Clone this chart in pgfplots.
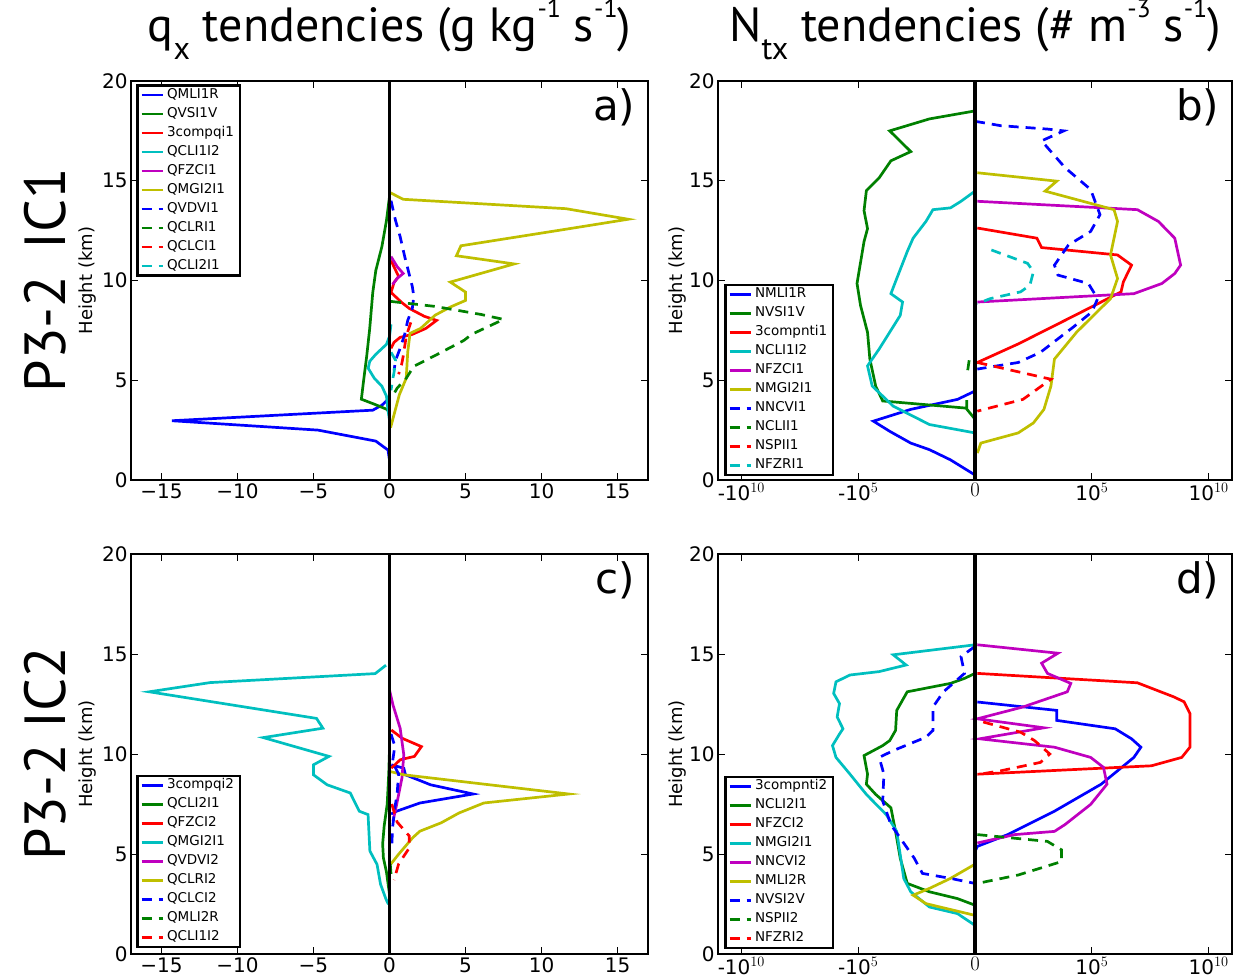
\documentclass[border=0pt]{standalone}
\usepackage{fontspec}
\setmainfont{DejaVu Sans}
\newfontfamily\titlefont{PT Sans}
\usepackage{pgfplots}
\pgfplotsset{compat=1.18}
\definecolor{mblue}{rgb}{0,0,1}
\definecolor{mgreen}{rgb}{0,0.5,0}
\definecolor{mred}{rgb}{1,0,0}
\definecolor{mcyan}{rgb}{0,0.75,0.75}
\definecolor{mmag}{rgb}{0.75,0,0.75}
\definecolor{myel}{rgb}{0.75,0.75,0}
\pgfplotsset{
  panel/.style={
    scale only axis, anchor=south west,
    ymin=0, ymax=20, ytick={0,5,10,15,20},
    tick align=inside, major tick length=7bp,
    axis line style={line width=2.4bp},
    tick style={line width=0.8bp, black},
    ticklabel style={font=\fontsize{20bp}{24bp}\selectfont},
    /pgf/number format/assume math mode=true,
    ylabel={Height (km)},
    every axis y label/.style={at={(axis description cs:#1,0.5)},rotate=90,anchor=center,
      font=\fontsize{18bp}{21bp}\selectfont},
    legend cell align=left,
    legend image code/.code={\draw[##1] (0bp,0bp) -- (21bp,0bp);},
    legend style={draw=black, line width=2.4bp, inner xsep=3bp, inner ysep=2bp,
      font=\fontsize{13.5bp}{15bp}\selectfont, row sep=4bp,
      nodes={inner xsep=3bp, inner ysep=1bp, text height=10bp, text depth=3bp}},
  },
  leftpanel/.style={panel=-0.085, xmin=-17, xmax=17, xtick={-15,-10,-5,0,5,10,15},
    xticklabels={−15,−10,−5,0,5,10,15}},
  rightpanel/.style={panel=-0.078, xmin=-2.2, xmax=2.2, xtick={-2,-1,0,1,2},
    xticklabels={{-10$^{10}$},{-10$^{5}$},{$0$},{10$^{5}$},{10$^{10}$}}},
  s/.style={line width=2.7bp},
  d/.style={line width=2.7bp, dash pattern=on 10bp off 7bp},
}
\newcommand{\zeroline}{\addplot[black, line width=3.6bp, forget plot] coordinates {(0,0) (0,20)};}
\newcommand{\plab}[1]{\node[anchor=base east, font=\fontsize{42bp}{44bp}\selectfont] at (rel axis cs:0.982,0.9) {#1};}
\begin{document}
\begin{tikzpicture}
\useasboundingbox (0bp,0bp) rectangle (1239bp,979bp);
\node[anchor=base, font=\titlefont\fontsize{48bp}{52bp}\selectfont] at (389.5bp,937bp)
  {q\raisebox{-0.36em}{\fontsize{32bp}{32bp}\selectfont x} tendencies (g kg\raisebox{0.5em}{\fontsize{26bp}{26bp}\selectfont -1} s\raisebox{0.5em}{\fontsize{26bp}{26bp}\selectfont -1})};
\node[anchor=base, font=\titlefont\fontsize{48bp}{52bp}\selectfont] at (975bp,937bp)
  {N\raisebox{-0.36em}{\fontsize{32bp}{32bp}\selectfont tx} tendencies (\# m\raisebox{0.5em}{\fontsize{26bp}{26bp}\selectfont -3} s\raisebox{0.5em}{\fontsize{26bp}{26bp}\selectfont -1})};
\node[rotate=90, font=\titlefont\fontsize{58bp}{62bp}\selectfont] at (45bp,699bp) {P3-2\hspace{0.45em}IC1};
\node[rotate=90, font=\titlefont\fontsize{58bp}{62bp}\selectfont] at (45bp,225bp) {P3-2 IC2};

% ---------------- a)
\begin{axis}[leftpanel, at={(131bp,499bp)}, width=517bp, height=399bp,
  legend style={at={(0.01,0.992)}, anchor=north west}]
\addplot[s,mblue] coordinates {(0,1.0) (-0.1,1.5) (-0.9,1.95) (-4.7,2.5) (-14.3,2.97) (-1.1,3.5) (-0.5,3.75) (0,4.1)};
\addlegendentry{QMLI1R}
\addplot[s,mgreen] coordinates {(0,14.2) (-0.2,13) (-0.5,11.7) (-0.9,10.5) (-1.1,9.4) (-1.2,8.5) (-1.3,7.6) (-1.5,6.2) (-1.7,5) (-1.85,4.05) (-1.0,3.8) (-0.2,3.55) (0,3.4)};
\addlegendentry{QVSI1V}
\addplot[s,mred] coordinates {(0.1,11.0) (0.6,10.2) (0.3,9.9) (0.1,9.4) (0.8,8.9) (1.3,8.6) (2.3,8.2) (3.1,8.0) (2.4,7.6) (1.5,7.3) (0.7,7.15) (0.3,6.9) (0.1,6.6)};
\addlegendentry{3compqi1}
\addplot[s,mcyan] coordinates {(0.1,7.8) (0,7.2) (-0.2,6.8) (-0.9,6.3) (-1.3,5.95) (-1.4,5.6) (-1.0,5.1) (-0.5,4.7) (-0.2,4.2) (-0.1,3.5) (0,3.0)};
\addlegendentry{QCLI1I2}
\addplot[s,mmag] coordinates {(0.1,11.2) (0.5,10.7) (0.9,10.35) (0.5,10.1) (0.2,9.8)};
\addlegendentry{QFZCI1}
\addplot[s,myel] coordinates {(0.05,14.4) (0.9,14.07) (11.6,13.6) (15.7,13.07) (11.6,12.57) (4.7,11.74) (4.4,11.24) (8.2,10.83) (4.0,9.92) (5.0,9.42) (5.0,9.0) (4.0,8.67) (3.0,8.26) (2.05,7.6) (1.35,7.35) (1.2,6.43) (1.1,5.1) (0.65,4.28) (0.07,2.62)};
\addlegendentry{QMGI2I1}
\addplot[d,mblue] coordinates {(0.1,14.0) (0.4,13.0) (0.7,12.2) (1.0,11.2) (1.3,10.3) (1.5,9.7) (1.6,9.2) (1.5,8.6) (1.2,8.0) (1.0,7.3) (0.7,6.6) (0.4,6.0) (0.3,5.5)};
\addlegendentry{QVDVI1}
\addplot[d,mgreen] coordinates {(0.1,8.95) (3,8.7) (6,8.3) (7.5,8.05) (5.4,7.3) (4.9,7.0) (2.9,6.2) (1.6,5.7) (1.1,5.1) (0.5,4.6) (0.2,4.2)};
\addlegendentry{QCLRI1}
\addplot[d,mred] coordinates {(1.4,7.9) (1.1,7.2) (0.9,6.2) (0.8,5.8) (0.6,5.3)};
\addlegendentry{QCLCI1}
\addplot[d,mcyan] coordinates {(0.1,6.4) (0.4,6.0) (0.3,5.4) (0.2,5.0) (0.1,4.5)};
\addlegendentry{QCLI2I1}
\zeroline
\plab{a)}
\end{axis}

% ---------------- b)
\begin{axis}[rightpanel, at={(718bp,499bp)}, width=514bp, height=399bp,
  legend style={at={(0.012,0.01)}, anchor=south west}]
\addplot[s,mblue] coordinates {(0,0.25) (-0.21,1.01) (-0.39,1.52) (-0.55,1.85) (-0.73,2.44) (-0.87,2.95) (-0.55,3.54) (-0.15,4.04) (0,4.46)};
\addlegendentry{NMLI1R}
\addplot[s,mgreen] coordinates {(0,18.5) (-0.39,18.1) (-0.73,17.5) (-0.55,16.46) (-0.72,16.0) (-0.82,15.15) (-0.93,14.5) (-0.95,13.5) (-0.92,12.6) (-0.95,11.95) (-0.98,10.9) (-1.01,9.85) (-0.98,8.75) (-0.92,7.4) (-0.9,6.06) (-0.85,4.7) (-0.79,3.96) (-0.07,3.6) (-0.07,4.0) (-0.07,3.55) (0,3.05)};
\addlegendentry{NVSI1V}
\addplot[s,mred] coordinates {(0.02,12.63) (0.53,12.12) (0.57,11.65) (1.22,11.28) (1.34,10.77) (1.27,9.93) (1.25,9.43) (1.08,8.92) (0.77,8.0) (0.37,6.82) (0.02,5.89)};
\addlegendentry{3compnti1}
\addplot[s,mcyan] coordinates {(0,14.48) (-0.12,13.97) (-0.21,13.64) (-0.36,13.55) (-0.42,12.96) (-0.53,12.12) (-0.58,11.45) (-0.67,10.1) (-0.72,9.34) (-0.62,8.92) (-0.64,8.25) (-0.73,7.41) (-0.82,6.57) (-0.92,5.72) (-0.88,4.71) (-0.7,3.7) (-0.39,2.78) (0,2.36)};
\addlegendentry{NCLI1I2}
\addplot[s,mmag] coordinates {(0.02,13.97) (1.39,13.55) (1.57,12.96) (1.71,12.12) (1.76,10.77) (1.71,10.35) (1.6,9.85) (1.36,9.34) (0.02,8.92)};
\addlegendentry{NFZCI1}
\addplot[s,myel] coordinates {(0.02,15.4) (0.7,14.98) (0.6,14.48) (1.19,13.55) (1.22,12.96) (1.16,11.28) (1.22,10.1) (1.16,9.09) (0.87,7.41) (0.68,6.06) (0.65,4.71) (0.59,3.54) (0.5,2.86) (0.37,2.36) (0.05,1.85) (0.02,1.35)};
\addlegendentry{NMGI2I1}
\addplot[d,mblue] coordinates {(0,17.98) (0.22,17.76) (0.62,17.59) (0.76,17.5) (0.57,17.0) (0.77,15.66) (0.99,14.56) (1.07,13.3) (0.99,12.46) (0.8,11.78) (0.68,10.77) (0.71,10.27) (0.97,9.85) (1.05,9.09) (1.0,8.42) (0.84,7.66) (0.56,6.4) (0.37,5.89) (0.02,5.56)};
\addlegendentry{NNCVI1}
\addplot[d,mgreen] coordinates {(-0.05,6.0) (-0.06,5.6) (-0.07,5.2)};
\addlegendentry{NCLII1}
\addplot[d,mred] coordinates {(0.02,5.89) (0.65,5.05) (0.41,4.04) (0.02,3.45)};
\addlegendentry{NSPII1}
\addplot[d,mcyan] coordinates {(0.14,11.53) (0.45,10.86) (0.5,10.44) (0.47,9.76) (0.39,9.43) (0.13,9.09) (0.02,8.84)};
\addlegendentry{NFZRI1}
\zeroline
\plab{b)}
\end{axis}

% ---------------- c)
\begin{axis}[leftpanel, at={(131bp,25bp)}, width=517bp, height=400bp,
  legend style={at={(0.01,0.015)}, anchor=south west}]
\addplot[s,mblue] coordinates {(0.12,9.46) (0.94,9.29) (1.05,8.96) (2.7,8.46) (5.5,8.0) (2.0,7.55) (0.47,7.14) (0.1,7.0)};
\addlegendentry{3compqi2}
\addplot[s,mgreen] coordinates {(0,10.2) (-0.05,9) (-0.15,7.5) (-0.35,6.4) (-0.45,5.5) (-0.4,4.8) (-0.2,4.1) (0,3.0)};
\addlegendentry{QCLI2I1}
\addplot[s,mred] coordinates {(0.12,11.2) (0.82,10.79) (2.1,10.37) (1.64,9.88) (0.7,9.71) (0.12,9.29)};
\addlegendentry{QFZCI2}
\addplot[s,mcyan] coordinates {(-0.23,14.44) (-0.94,14.02) (-11.8,13.57) (-15.8,13.11) (-4.8,11.78) (-4.38,11.29) (-8.3,10.82) (-3.98,9.88) (-5.0,9.46) (-5.0,8.96) (-4.1,8.46) (-2.58,8.05) (-1.99,7.14) (-1.41,6.97) (-1.29,5.15) (-0.82,4.48) (-0.59,3.49) (-0.23,2.74) (-0.07,2.49)};
\addlegendentry{QMGI2I1}
\addplot[s,mmag] coordinates {(0,13.2) (0.23,12.45) (0.7,11.29) (0.94,9.96) (0.82,8.8) (0.47,7.47) (0.23,6.64)};
\addlegendentry{QVDVI2}
\addplot[s,myel] coordinates {(0,9.13) (0.94,8.96) (11.78,8.0) (6.2,7.55) (4.57,7.05) (3.4,6.56) (2.0,6.14) (1.52,5.81) (0.59,4.98) (0.07,4.48)};
\addlegendentry{QCLRI2}
\addplot[d,mblue] coordinates {(0.1,11.0) (0.35,10.4) (0.2,9.6) (0.6,9.0) (0.5,8.0) (0.35,7.3) (0.2,6.3) (0.15,5.4)};
\addlegendentry{QCLCI2}
\addplot[d,mgreen] coordinates {(0.05,4.5) (0.1,4.0)};
\addlegendentry{QMLI2R}
\addplot[d,mred] coordinates {(0.15,7.5) (0.5,6.6) (1.3,5.9) (1.3,5.3) (0.6,4.5) (0.3,3.7)};
\addlegendentry{QCLI1I2}
\zeroline
\plab{c)}
\end{axis}

% ---------------- d)
\begin{axis}[rightpanel, at={(718bp,25bp)}, width=514bp, height=400bp,
  legend style={at={(0.012,0.0125)}, anchor=south west}]
\addplot[s,mblue] coordinates {(0.02,12.6) (0.7,12.18) (0.7,11.68) (1.2,11.26) (1.34,10.76) (1.42,10.34) (1.36,9.83) (1.08,8.49) (0.68,7.14) (0.28,5.97) (0.02,5.38) (0,5.13)};
\addlegendentry{3compnti2}
\addplot[s,mgreen] coordinates {(0,14.03) (-0.09,13.78) (-0.21,13.53) (-0.58,13.11) (-0.67,12.18) (-0.68,11.18) (-0.73,10.67) (-0.79,10.42) (-0.95,9.92) (-0.92,8.99) (-0.93,8.49) (-0.85,7.98) (-0.72,7.31) (-0.68,6.13) (-0.64,4.79) (-0.58,3.53) (-0.39,3.11) (-0.15,2.77) (0,2.44)};
\addlegendentry{NCLI2I1}
\addplot[s,mred] coordinates {(0.02,14.03) (1.39,13.56) (1.7,12.86) (1.79,12.61) (1.84,12.02) (1.84,10.34) (1.77,9.83) (1.51,9.41) (0.02,8.99)};
\addlegendentry{NFZCI2}
\addplot[s,mcyan] coordinates {(0,15.46) (-0.7,14.96) (-0.59,14.45) (-0.82,14.12) (-1.07,13.95) (-1.19,13.61) (-1.21,13.03) (-1.16,12.52) (-1.18,11.85) (-1.13,11.26) (-1.16,11.0) (-1.22,10.42) (-1.19,9.83) (-1.07,8.99) (-0.93,7.98) (-0.76,6.97) (-0.67,6.13) (-0.64,4.96) (-0.61,3.78) (-0.55,3.11) (-0.39,2.35) (-0.15,2.02) (0,1.43)};
\addlegendentry{NMGI2I1}
\addplot[s,mmag] coordinates {(0.02,15.46) (0.71,15.04) (0.57,14.54) (0.62,14.03) (0.82,13.53) (0.79,13.11) (0.41,12.35) (0.02,11.76) (0.59,11.31) (0.04,10.76) (0.68,10.34) (0.99,9.83) (1.1,9.33) (1.13,8.49) (0.99,7.48) (0.77,6.47) (0.68,6.13) (0.34,5.97) (0.02,5.55)};
\addlegendentry{NNCVI2}
\addplot[s,myel] coordinates {(0,4.49) (-0.21,3.78) (-0.39,3.28) (-0.53,2.94) (-0.42,2.52) (-0.3,2.35) (-0.12,2.1) (0,1.93)};
\addlegendentry{NMLI2R}
\addplot[d,mblue] coordinates {(0,15.38) (-0.12,14.87) (-0.09,14.03) (-0.27,13.11) (-0.36,12.35) (-0.36,11.18) (-0.42,10.84) (-0.7,10.17) (-0.82,9.83) (-0.78,8.99) (-0.79,7.65) (-0.72,6.47) (-0.62,5.63) (-0.52,4.79) (-0.45,4.03) (-0.21,3.78) (0,3.53)};
\addlegendentry{NVSI2V}
\addplot[d,mgreen] coordinates {(0.02,5.97) (0.62,5.63) (0.74,5.21) (0.74,4.62) (0.37,3.95) (0.02,3.53)};
\addlegendentry{NSPII2}
\addplot[d,mred] coordinates {(0.07,11.6) (0.39,11.09) (0.51,10.67) (0.64,10.0) (0.56,9.58) (0.22,9.16) (0.04,8.99)};
\addlegendentry{NFZRI2}
\zeroline
\plab{d)}
\end{axis}
\end{tikzpicture}
\end{document}
